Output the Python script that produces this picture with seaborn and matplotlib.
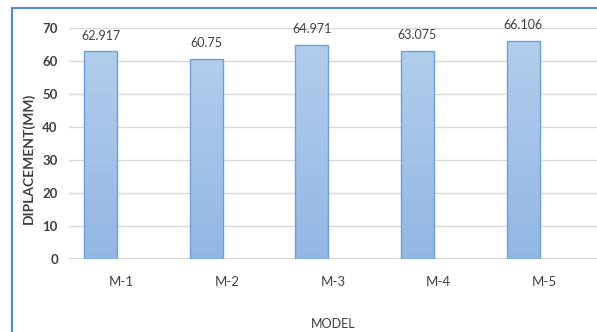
import matplotlib
matplotlib.use("Agg")
import matplotlib.pyplot as plt
import matplotlib.patches as mpatches
from matplotlib.colors import LinearSegmentedColormap
import numpy as np
import pandas as pd
import seaborn as sns

# Data
models = ["M-1", "M-2", "M-3", "M-4", "M-5"]
displacement = [62.917, 60.75, 64.971, 63.075, 66.106]
value_labels = ["62.917", "60.75", "64.971", "63.075", "66.106"]
series_order = ["DISPLACEMENT", "Series2"]
y_ticks = [0, 10, 20, 30, 40, 50, 60, 70]

sns.set_theme(style="white")
plt.rcParams["font.family"] = ["Lato", "DejaVu Sans"]

df = pd.DataFrame({"MODEL": models, "DISPLACEMENT": displacement,
                   "series": ["DISPLACEMENT"] * len(models)})

fig = plt.figure(figsize=(5.97, 3.32), dpi=100)
fig.patch.set_facecolor("white")
ax = fig.add_axes([69 / 597, 73 / 332, 1 - 69 / 597, 231 / 332])

sns.barplot(data=df, x="MODEL", y="DISPLACEMENT", hue="series",
            hue_order=series_order, order=models, width=0.8, gap=0.22,
            dodge=True, legend=False, ax=ax, errorbar=None,
            palette={"DISPLACEMENT": "#a4c2e8", "Series2": "#a4c2e8"},
            edgecolor="#6d9fd8", linewidth=1.0, zorder=3)

ax.set_ylim(0, 70)
ax.set_xlim(-0.5, len(models) - 0.5)
ax.set_yticks(y_ticks)

# Vertical gradient fill clipped to each bar
cmap = LinearSegmentedColormap.from_list("barfill", ["#93b7e3", "#b2cdec"])
grad = np.linspace(0, 1, 256).reshape(-1, 1)
bars = [p for p in ax.patches if p.get_height() > 0]
for p in bars:
    x0, y0 = p.get_x(), p.get_y()
    w, h = p.get_width(), p.get_height()
    im = ax.imshow(grad, extent=(x0, x0 + w, y0, y0 + h), origin="lower",
                   cmap=cmap, aspect="auto", zorder=3.5, interpolation="bicubic")
    im.set_clip_path(p)
    p.set_facecolor("none")
    p.set_zorder(4)
ax.set_xlim(-0.5, len(models) - 0.5)
ax.set_ylim(0, 70)

# Value labels above each bar
for p, txt in zip(sorted(bars, key=lambda b: b.get_x()), value_labels):
    ax.annotate(txt, (p.get_x() + p.get_width() / 2, p.get_height()),
                xytext=(0, 7), textcoords="offset points", ha="center",
                va="bottom", fontsize=9, color="#404040")

ax.grid(axis="y", color="#d9d9d9", linewidth=1.0, zorder=0)
ax.set_axisbelow(True)
for s in ax.spines.values():
    s.set_visible(False)
ax.axhline(0, color="#d0d0d0", linewidth=1.2, zorder=2)

ax.tick_params(axis="both", length=0, colors="#404040")
ax.tick_params(axis="y", labelsize=9.5, pad=8)
ax.tick_params(axis="x", labelsize=9.5, pad=12)
for lab in ax.get_yticklabels():
    lab.set_fontweight("bold")

ax.set_ylabel("DIPLACEMENT(MM)", fontsize=10, fontweight="bold", color="#404040")
ax.yaxis.set_label_coords(-0.064, 0.435)
ax.set_xlabel("MODEL", fontsize=9, color="#404040")
ax.xaxis.set_label_coords(0.5, -0.255)

# Outer chart frame
frame = mpatches.Rectangle((12 / 597, -0.2), 1.5, 1.2 - 8 / 332,
                           transform=fig.transFigure, fill=False,
                           edgecolor="#5b8cc8", linewidth=1.6, zorder=10)
fig.patches.append(frame)

fig.savefig("out.png", dpi=100)
